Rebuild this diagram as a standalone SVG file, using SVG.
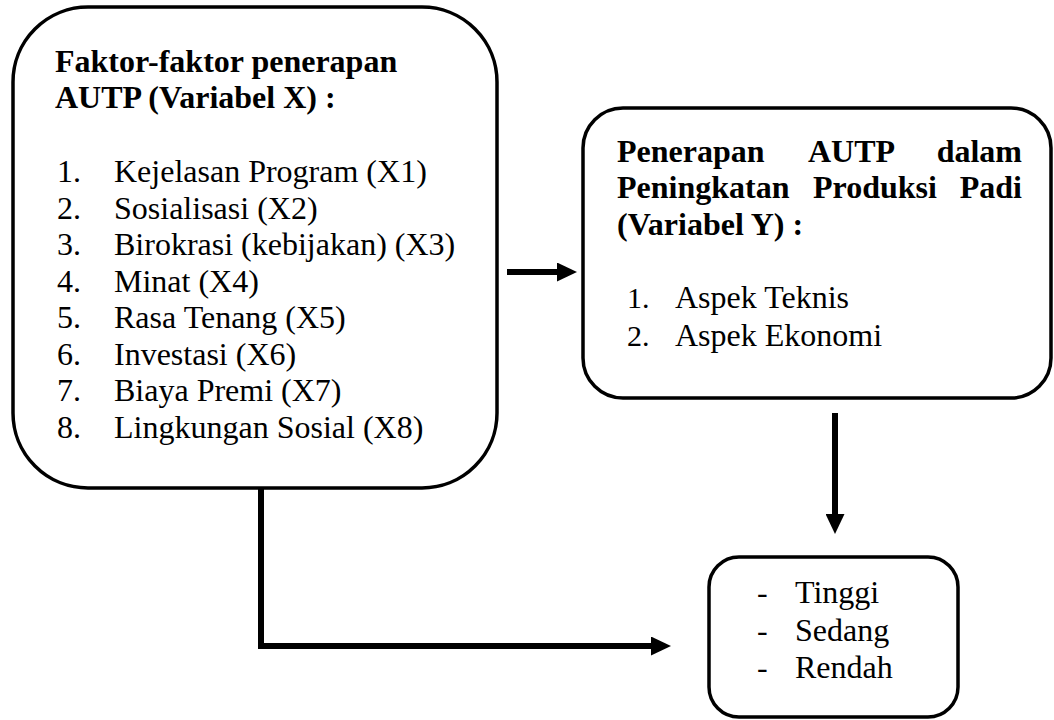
<svg xmlns="http://www.w3.org/2000/svg" width="1054" height="720" viewBox="0 0 1054 720">
<style>
.box{fill:#fff;stroke:#000;stroke-width:3.5}
.t{font-family:'Liberation Serif','Times New Roman',serif;font-size:32px;fill:#000}
.b{font-weight:bold}
.n{font-size:30px}
.c{fill:none;stroke:#000;stroke-width:6;stroke-linejoin:miter}
</style>
<defs>
<marker id="ah" markerUnits="userSpaceOnUse" markerWidth="20" markerHeight="19" viewBox="0 0 20 19" refX="0" refY="9.5" orient="auto">
<path d="M0,0 L20,9.5 L0,19 Z" fill="#000"/>
</marker>
</defs>
<rect width="1054" height="720" fill="#fff"/>
<g id="connectors">
<line class="c" x1="507" y1="272" x2="557" y2="272" marker-end="url(#ah)"/>
<line class="c" x1="835" y1="413" x2="835" y2="514" marker-end="url(#ah)"/>
<path class="c" d="M261,488 V646 H651" marker-end="url(#ah)"/>
</g>
<g id="node-x">
<rect class="box" x="13" y="7" width="484" height="481" rx="75" ry="75"/>
<text class="t b" x="55" y="72">Faktor-faktor penerapan</text>
<text class="t b" x="55" y="108">AUTP (Variabel X) :</text>
<text class="t" x="57" y="182">1.</text><text class="t" x="114" y="182">Kejelasan Program (X1)</text>
<text class="t" x="57" y="218.5">2.</text><text class="t" x="114" y="218.5">Sosialisasi (X2)</text>
<text class="t" x="57" y="255">3.</text><text class="t" x="114" y="255">Birokrasi (kebijakan) (X3)</text>
<text class="t" x="57" y="292">4.</text><text class="t" x="114" y="292">Minat (X4)</text>
<text class="t" x="57" y="328">5.</text><text class="t" x="114" y="328">Rasa Tenang (X5)</text>
<text class="t" x="57" y="365">6.</text><text class="t" x="114" y="365">Investasi (X6)</text>
<text class="t" x="57" y="401">7.</text><text class="t" x="114" y="401">Biaya Premi (X7)</text>
<text class="t" x="57" y="438">8.</text><text class="t" x="114" y="438">Lingkungan Sosial (X8)</text>
</g>
<g id="node-y">
<rect class="box" x="583" y="108" width="468" height="290" rx="40" ry="40"/>
<text class="t b" x="617" y="162">Penerapan</text>
<text class="t b" x="808" y="162">AUTP</text>
<text class="t b" x="1022" y="162" text-anchor="end">dalam</text>
<text class="t b" x="617" y="198">Peningkatan</text>
<text class="t b" x="813" y="198">Produksi</text>
<text class="t b" x="1022" y="198" text-anchor="end">Padi</text>
<text class="t b" x="617" y="235">(Variabel Y) :</text>
<text class="t n" x="627" y="308">1.</text><text class="t" x="675" y="308">Aspek Teknis</text>
<text class="t n" x="627" y="346">2.</text><text class="t" x="675" y="346">Aspek Ekonomi</text>
</g>
<g id="node-level">
<rect class="box" x="709" y="557" width="249" height="160" rx="30" ry="30"/>
<text class="t" x="757" y="603">-</text><text class="t" x="795" y="603">Tinggi</text>
<text class="t" x="757" y="641">-</text><text class="t" x="795" y="641">Sedang</text>
<text class="t" x="757" y="678">-</text><text class="t" x="795" y="678">Rendah</text>
</g>
</svg>
